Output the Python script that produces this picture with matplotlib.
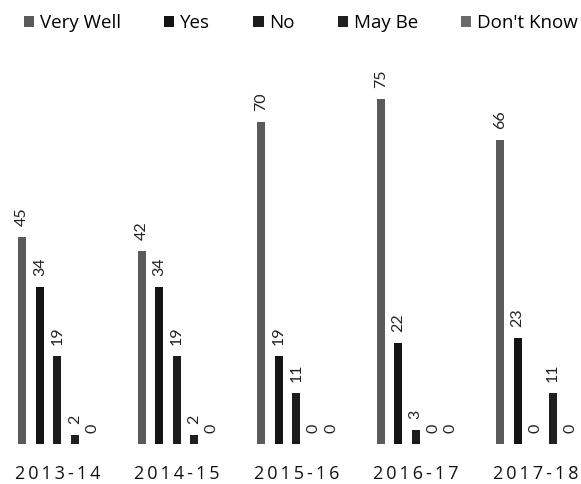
import numpy as np
import matplotlib
matplotlib.use("Agg")
import matplotlib.pyplot as plt

years = ["2013-14", "2014-15", "2015-16", "2016-17", "2017-18"]
series = ["Very Well", "Yes", "No", "May Be", "Don't Know"]
very_well = [45, 42, 70, 75, 66]
yes = [34, 34, 19, 22, 23]
no = [19, 19, 11, 3, 0]
may_be = [2, 2, 0, 0, 11]
dont_know = [0, 0, 0, 0, 0]

values = [very_well, yes, no, may_be, dont_know]
colors = ["#5a5a5a", "#141414", "#1c1c1c", "#202020", "#6a6a6a"]

plt.rcParams["font.family"] = ["Open Sans", "DejaVu Sans"]

fig = plt.figure(figsize=(5.81, 4.84), dpi=100)
ax = fig.add_axes([-0.004, 0.083, 1.028, 0.76])

x = np.arange(len(years))
step = 0.147
width = 0.068
for i, (name, vals, c) in enumerate(zip(series, values, colors)):
    pos = x + (i - 2) * step
    ax.bar(pos, vals, width, color=c, label=name)
    for xb, v in zip(pos, vals):
        ax.annotate(str(v), (xb, v), xytext=(0, 8), textcoords="offset points",
                    rotation=90, ha="center", va="bottom", fontsize=11.5,
                    color="#222222", family=["Lato", "DejaVu Sans"])

ax.set_ylim(0, 80)
ax.set_xlim(-0.5, len(years) - 0.5)
ax.set_yticks([])
ax.set_xticks(x)
# spread the digits a little with thin spaces
ax.set_xticklabels(["\u2009".join(y) for y in years], fontsize=13, color="#111111")
ax.tick_params(axis="x", length=0, pad=15)
for s in ax.spines.values():
    s.set_visible(False)

fig.legend(loc="upper center", bbox_to_anchor=(0.518, 1.005), ncol=5, frameon=False,
           fontsize=13.5, handlelength=0.55, handleheight=0.55, handletextpad=0.3,
           columnspacing=2.3)

fig.savefig("out.png", dpi=100)
